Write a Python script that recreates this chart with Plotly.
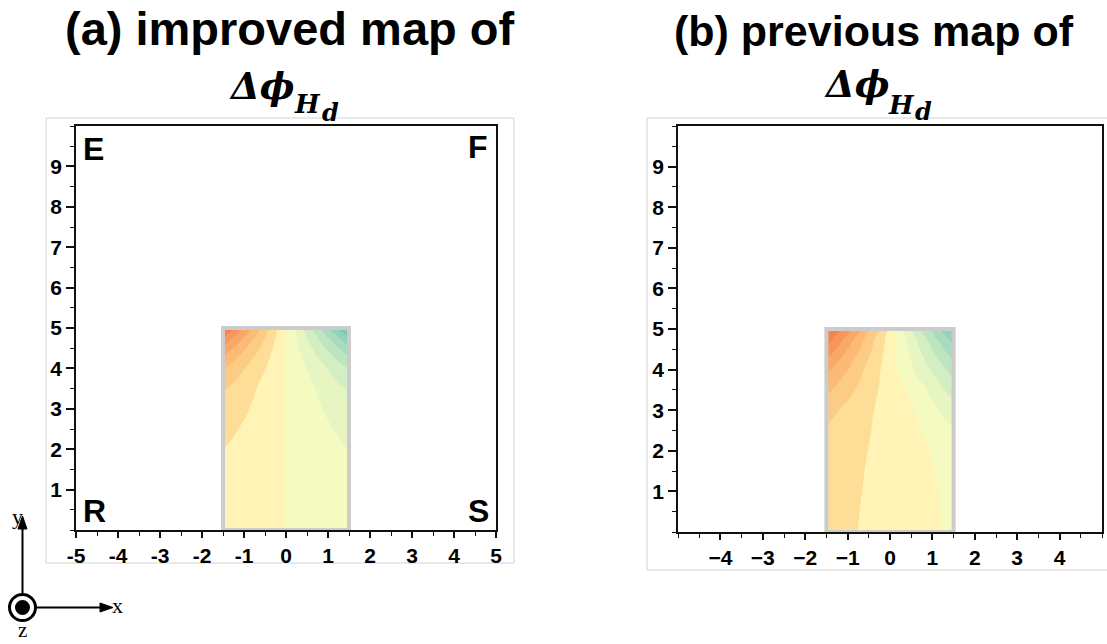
import plotly.graph_objects as go

W, H = 1107, 644

# ---- field samples (rows follow y_rows, columns follow the x list) ----
y_rows = [0, 1, 2, 2.5, 3, 3.5, 4, 4.25, 4.5, 4.75, 5]

x_a = [-1.5, -1.25, -1.0, -0.75, -0.5, -0.25, 0.25, 0.5, 0.75, 1.0, 1.25, 1.5]
z_a = [
    [-0.53, -0.44, -0.35, -0.26, -0.18, -0.09, 0.09, 0.18, 0.26, 0.35, 0.44, 0.53],
    [-0.75, -0.63, -0.50, -0.38, -0.25, -0.13, 0.13, 0.25, 0.38, 0.50, 0.63, 0.75],
    [-1.01, -0.84, -0.67, -0.50, -0.34, -0.17, 0.17, 0.34, 0.50, 0.67, 0.84, 1.01],
    [-1.32, -1.10, -0.88, -0.66, -0.44, -0.22, 0.22, 0.44, 0.66, 0.88, 1.10, 1.32],
    [-1.73, -1.44, -1.15, -0.86, -0.58, -0.29, 0.29, 0.58, 0.86, 1.15, 1.44, 1.73],
    [-2.13, -1.78, -1.42, -1.07, -0.71, -0.36, 0.36, 0.71, 1.07, 1.42, 1.78, 2.13],
    [-3.08, -2.56, -2.05, -1.54, -1.03, -0.51, 0.51, 1.03, 1.54, 2.05, 2.56, 3.08],
    [-3.83, -3.19, -2.55, -1.91, -1.28, -0.64, 0.64, 1.28, 1.91, 2.55, 3.19, 3.83],
    [-4.77, -3.98, -3.18, -2.39, -1.59, -0.80, 0.80, 1.59, 2.39, 3.18, 3.98, 4.77],
    [-5.93, -4.94, -3.95, -2.96, -1.98, -0.99, 0.99, 1.98, 2.96, 3.95, 4.94, 5.93],
    [-7.43, -6.19, -4.95, -3.71, -2.48, -1.24, 1.24, 2.48, 3.71, 4.95, 6.19, 7.43],
]

x_b = [-1.5, -1.25, -1.0, -0.75, -0.5, -0.25, 0.0, 0.25, 0.5, 0.75, 1.0, 1.25, 1.5]
z_b = [
    [-1.37, -1.24, -1.12, -0.99, -0.87, -0.74, -0.62, -0.49, -0.37, -0.24, -0.12, 0.01, 0.14],
    [-1.50, -1.35, -1.20, -1.05, -0.91, -0.78, -0.64, -0.50, -0.37, -0.23, -0.09, 0.07, 0.30],
    [-1.75, -1.56, -1.36, -1.17, -0.98, -0.81, -0.64, -0.48, -0.31, -0.14, 0.05, 0.33, 0.60],
    [-1.91, -1.70, -1.48, -1.27, -1.05, -0.84, -0.63, -0.41, -0.20, 0.02, 0.33, 0.63, 0.94],
    [-2.35, -2.05, -1.74, -1.44, -1.13, -0.86, -0.60, -0.35, -0.09, 0.28, 0.72, 1.16, 1.60],
    [-3.25, -2.78, -2.32, -1.86, -1.39, -0.95, -0.60, -0.26, 0.14, 0.73, 1.32, 1.91, 2.50],
    [-4.30, -3.65, -3.02, -2.36, -1.72, -1.07, -0.43, 0.22, 0.87, 1.51, 2.16, 2.80, 3.45],
    [-4.95, -4.20, -3.45, -2.70, -1.95, -1.20, -0.45, 0.30, 1.05, 1.80, 2.55, 3.30, 4.05],
    [-5.80, -4.92, -4.03, -3.15, -2.27, -1.38, -0.50, 0.38, 1.27, 2.15, 3.03, 3.92, 4.80],
    [-6.60, -5.59, -4.58, -3.56, -2.55, -1.54, -0.53, 0.49, 1.50, 2.51, 3.53, 4.54, 5.40],
    [-7.30, -6.50, -5.45, -4.35, -3.15, -2.10, -0.60, 0.70, 1.95, 3.25, 4.30, 5.30, 5.90],
]

# ---- axis ticks ----
xa_ticks = [-5, -4, -3, -2, -1, 0, 1, 2, 3, 4, 5]
xa_text = ["-5", "-4", "-3", "-2", "-1", "0", "1", "2", "3", "4", "5"]
xb_ticks = [-4, -3, -2, -1, 0, 1, 2, 3, 4]
xb_text = ["\u22124", "\u22123", "\u22122", "\u22121", "0", "1", "2", "3", "4"]
y_ticks = [1, 2, 3, 4, 5, 6, 7, 8, 9]
y_text = ["1", "2", "3", "4", "5", "6", "7", "8", "9"]

# one colour per filled band, from below -6 up to above +6
band_colors = [
    "rgb(246,133,83)", "rgb(248,150,92)", "rgb(250,168,104)", "rgb(252,186,118)",
    "rgb(253,204,132)", "rgb(254,222,150)", "rgb(255,243,182)", "rgb(245,251,192)",
    "rgb(230,245,194)", "rgb(211,238,194)", "rgb(190,229,192)", "rgb(168,220,190)",
    "rgb(146,210,187)", "rgb(124,199,182)",
]
n_bands = len(band_colors)
colorscale = [[i / (n_bands - 1), c] for i, c in enumerate(band_colors)]

SANS = "Arial, Liberation Sans, sans-serif"
SERIF = "DejaVu Serif, Liberation Serif, serif"
TEXT_SERIF = "Liberation Serif, Times New Roman, serif"
TICK_FONT = dict(family=SANS, size=21, color="black", weight="bold")


def px(x):
    return x / W


def py(y):
    return 1 - y / H


def contour_trace(x, z, xaxis, yaxis):
    return go.Contour(
        x=x, y=y_rows, z=z,
        xaxis=xaxis, yaxis=yaxis,
        colorscale=colorscale,
        contours=dict(start=-6, end=6, size=1, coloring="fill", showlines=False),
        line=dict(width=0, smoothing=1.2),
        showscale=False,
        hoverinfo="skip",
    )


fig = go.Figure()
fig.add_trace(contour_trace(x_a, z_a, "x", "y"))
fig.add_trace(contour_trace(x_b, z_b, "x2", "y2"))

axis_common = dict(
    showgrid=False, zeroline=False, showline=True, linecolor="#111", linewidth=1.5,
    mirror=True, ticks="outside", tickcolor="#111", tickwidth=1.5, automargin=False,
)
minor = dict(ticks="outside", dtick=0.5, tick0=0, ticklen=4, tickcolor="#111", tickwidth=1.2)

fig.update_layout(
    width=W, height=H,
    margin=dict(l=0, r=0, t=0, b=0),
    paper_bgcolor="white", plot_bgcolor="white",
    showlegend=False,
    xaxis=dict(domain=[px(76), px(496)], range=[-5, 5], tickvals=xa_ticks,
               ticktext=xa_text, ticklen=6, minor=minor, anchor="y", **axis_common),
    yaxis=dict(domain=[py(530), py(126)], range=[0, 10], tickvals=y_ticks,
               ticktext=y_text, ticklen=8, minor=minor, anchor="x", **axis_common),
    xaxis2=dict(domain=[px(678), px(1102)], range=[-5, 5], tickvals=xb_ticks,
                ticktext=xb_text, ticklen=6, minor=minor, anchor="y2", **axis_common),
    yaxis2=dict(domain=[py(532), py(126)], range=[0, 10], tickvals=y_ticks,
                ticktext=y_text, ticklen=8, minor=minor, anchor="x2", **axis_common),
)
fig.update_xaxes(tickfont=TICK_FONT)
fig.update_yaxes(tickfont=TICK_FONT)

shapes = []
# thin grey frames around each panel
shapes.append(dict(type="rect", xref="paper", yref="paper", x0=px(46), x1=px(514),
                   y0=py(563), y1=py(118), line=dict(color="#d2d2d2", width=1), layer="below"))
shapes.append(dict(type="rect", xref="paper", yref="paper", x0=px(647), x1=px(1110),
                   y0=py(570), y1=py(118), line=dict(color="#d2d2d2", width=1), layer="below"))
# outline of the sample region
for xr, yr in (("x", "y"), ("x2", "y2")):
    shapes.append(dict(type="rect", xref=xr, yref=yr, x0=-1.5, x1=1.5, y0=0, y1=5,
                       line=dict(color="#cccccc", width=4)))

# coordinate triad
cx, cy = 22.5, 607.5
shapes.append(dict(type="line", xref="paper", yref="paper", x0=px(cx), x1=px(cx),
                   y0=py(593), y1=py(527), line=dict(color="black", width=2)))
shapes.append(dict(type="path", xref="paper", yref="paper",
                   path=f"M {px(cx)} {py(516)} L {px(cx-4.5)} {py(529)} L {px(cx+4.5)} {py(529)} Z",
                   fillcolor="black", line=dict(color="black", width=1)))
shapes.append(dict(type="line", xref="paper", yref="paper", x0=px(37), x1=px(102),
                   y0=py(cy), y1=py(cy), line=dict(color="black", width=2)))
shapes.append(dict(type="path", xref="paper", yref="paper",
                   path=f"M {px(113)} {py(cy)} L {px(100)} {py(cy-4.5)} L {px(100)} {py(cy+4.5)} Z",
                   fillcolor="black", line=dict(color="black", width=1)))
shapes.append(dict(type="circle", xref="paper", yref="paper", x0=px(cx-13), x1=px(cx+13),
                   y0=py(cy+13), y1=py(cy-13), line=dict(color="black", width=3)))
shapes.append(dict(type="circle", xref="paper", yref="paper", x0=px(cx-7.5), x1=px(cx+7.5),
                   y0=py(cy+7.5), y1=py(cy-7.5), fillcolor="black", line=dict(color="black", width=0)))
fig.update_layout(shapes=shapes)


def label(text, x, y, size, family=SANS, xanchor="center", yanchor="middle",
          weight="bold", style="normal"):
    return dict(text=text, xref="paper", yref="paper", x=px(x), y=py(y),
                xanchor=xanchor, yanchor=yanchor, showarrow=False,
                font=dict(family=family, size=size, color="black", weight=weight, style=style))


annotations = [
    label("(a) improved map of", 290, 29, 47),
    label("(b) previous map of", 873.5, 31, 43),
    label("\u0394\u03d5", 227, 86, 37, family=SERIF, xanchor="left", style="italic"),
    label("H", 292, 104, 26, family=SERIF, xanchor="left", style="italic"),
    label("d", 320, 112, 24, family=SERIF, xanchor="left", style="italic"),
    label("\u0394\u03d5", 822, 84, 37, family=SERIF, xanchor="left", style="italic"),
    label("H", 886, 105, 26, family=SERIF, xanchor="left", style="italic"),
    label("d", 913, 111, 24, family=SERIF, xanchor="left", style="italic"),
    label("E", 81, 149, 32, xanchor="left"),
    label("F", 490, 147, 32, xanchor="right"),
    label("R", 81, 511, 32, xanchor="left"),
    label("S", 491, 511, 32, xanchor="right"),
    label("y", 17, 516, 22, family=TEXT_SERIF, weight="normal"),
    label("x", 110, 605, 22, family=TEXT_SERIF, xanchor="left", weight="normal"),
    label("z", 22, 644, 21, family=TEXT_SERIF, yanchor="bottom", weight="normal"),
]
fig.update_layout(annotations=annotations)

fig.write_html("out.html")
